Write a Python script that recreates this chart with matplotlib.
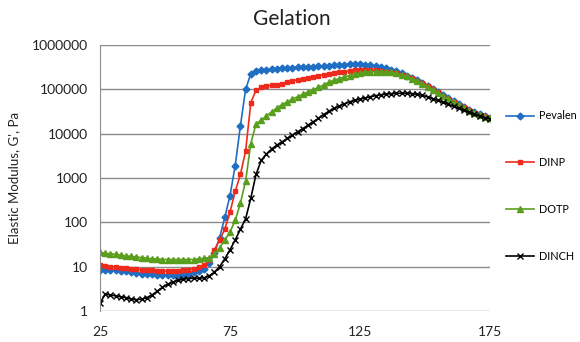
import matplotlib
matplotlib.use("Agg")
import matplotlib.pyplot as plt
from matplotlib.ticker import FixedLocator, NullLocator

plt.rcParams['font.family'] = ['Lato', 'DejaVu Sans']

# temperature (deg C), one reading every 2 degrees
temp = [25, 27, 29, 31, 33, 35, 37, 39, 41, 43, 45, 47, 49, 51, 53, 55, 57, 59, 61, 63,
        65, 67, 69, 71, 73, 75, 77, 79, 81, 83, 85, 87, 89, 91, 93, 95, 97, 99, 101, 103,
        105, 107, 109, 111, 113, 115, 117, 119, 121, 123, 125, 127, 129, 131, 133, 135, 137, 139, 141, 143,
        145, 147, 149, 151, 153, 155, 157, 159, 161, 163, 165, 167, 169, 171, 173, 175]

# elastic modulus G' (Pa)
pevalen = [8.3, 8.5, 8.4, 8.2, 8.0, 7.8, 7.5, 7.2, 7.0, 6.8, 6.7, 6.6, 6.5, 6.5, 6.5, 6.6, 6.8, 7.0, 7.4, 8.0,
           9.0, 12, 20, 45, 130, 400, 1900, 15000, 100000, 225000, 262000, 270000, 275000, 282000, 290000, 298000, 303000, 308000, 312000, 316000,
           320000, 326000, 330000, 335000, 340000, 348000, 355000, 362000, 368000, 370000, 368000, 362000, 350000, 335000, 318000, 300000, 280000, 255000, 228000, 205000,
           182000, 160000, 140000, 120000, 102000, 87000, 74000, 63000, 54000, 46000, 40000, 35000, 31000, 27500, 25000, 23000]

dinp = [11, 10.5, 10, 9.8, 9.5, 9.2, 9.0, 8.7, 8.5, 8.3, 8.2, 8.1, 8.0, 8.0, 8.0, 8.1, 8.3, 8.6, 9.0, 9.8,
        11, 14, 24, 40, 70, 170, 500, 1200, 4000, 50000, 95000, 110000, 118000, 123000, 128000, 135000, 145000, 155000, 163000, 172000,
        182000, 193000, 205000, 215000, 225000, 233000, 240000, 248000, 258000, 268000, 275000, 278000, 275000, 268000, 260000, 252000, 243000, 232000, 216000, 198000,
        178000, 158000, 138000, 118000, 100000, 85000, 72000, 61000, 52000, 45000, 39000, 34000, 30000, 27000, 24500, 22500]

dotp = [21, 20, 19.5, 19, 18, 17.5, 17, 16.5, 16, 15.5, 15, 15, 14.5, 14.5, 14.5, 14.5, 14.5, 14.5, 14.5, 15,
        15.5, 16, 19, 27, 40, 61, 110, 270, 850, 6000, 16500, 20000, 25000, 31000, 38000, 45000, 52000, 60000, 68000, 77000,
        87000, 97000, 110000, 125000, 145000, 160000, 175000, 190000, 205000, 220000, 232000, 242000, 248000, 252000, 252000, 250000, 242000, 230000, 212000, 195000,
        175000, 155000, 135000, 115000, 98000, 83000, 70000, 60000, 51000, 44000, 38000, 33000, 29000, 26500, 24000, 22000]

dinch = [1.5, 2.4, 2.3, 2.2, 2.1, 2.0, 1.85, 1.8, 1.85, 2.0, 2.3, 2.8, 3.4, 4.0, 4.5, 4.9, 5.2, 5.4, 5.5, 5.5,
         5.6, 6.2, 7.5, 10, 15, 24, 40, 70, 120, 350, 1200, 2500, 3500, 4500, 5500, 6500, 7800, 9200, 11000, 13000,
         15500, 18500, 22000, 27000, 32000, 37000, 42000, 47000, 52000, 56000, 60000, 64000, 68000, 72000, 75000, 78000, 80000, 81000, 82000, 81500,
         80000, 77000, 73000, 68000, 62000, 56000, 51000, 46000, 41000, 37000, 33500, 30500, 27500, 25000, 23000, 21500]

xticks = [25, 75, 125, 175]
yticks = [1, 10, 100, 1000, 10000, 100000, 1000000]
ytick_labels = ['1', '10', '100', '1000', '10000', '100000', '1000000']

fig = plt.figure(figsize=(5.8, 3.42), dpi=100)
ax = fig.add_axes([100 / 580, 31 / 342, 390 / 580, 266 / 342])

ax.plot(temp, pevalen, color='#1f6ec4', lw=1.2, marker='D', ms=3.5, label='Pevalen')
ax.plot(temp, dinp, color='#ee2a1c', lw=1.2, marker='s', ms=3.5, label='DINP')
ax.plot(temp, dotp, color='#5a9e1e', lw=1.2, marker='^', ms=4.5, label='DOTP')
ax.plot(temp, dinch, color='black', lw=1.2, marker='x', ms=5, mew=1.0, label='DINCH')

ax.set_yscale('log')
ax.set_ylim(1, 1000000)
ax.set_xlim(25, 175)
ax.yaxis.set_major_locator(FixedLocator(yticks))
ax.yaxis.set_minor_locator(NullLocator())
ax.set_yticklabels(ytick_labels)
ax.set_xticks(xticks)
ax.set_xticklabels([str(t) for t in xticks])
ax.tick_params(axis='y', length=0, pad=9, labelsize=10, colors='#222222')
ax.tick_params(axis='x', length=0, pad=11, labelsize=10, colors='#222222')

ax.grid(True, axis='y', color='#8c8c8c', lw=1.0)
ax.set_axisbelow(True)
for side in ['top', 'right', 'bottom']:
    ax.spines[side].set_visible(False)
ax.spines['left'].set_color('#8c8c8c')

ax.set_ylabel("Elastic Modulus, G', Pa", fontsize=9.5, color='#222222', labelpad=8)
fig.text(292 / 580, 1 - 19 / 342, 'Gelation', ha='center', va='center', fontsize=15, color='#222222')

fig.legend(loc='center left', bbox_to_anchor=(506 / 580, 1 - 186 / 342),
           frameon=False, fontsize=7.8, labelspacing=3.3, handlelength=2.6,
           handletextpad=0.4, borderpad=0, borderaxespad=0)

fig.savefig('out.png', dpi=100)
